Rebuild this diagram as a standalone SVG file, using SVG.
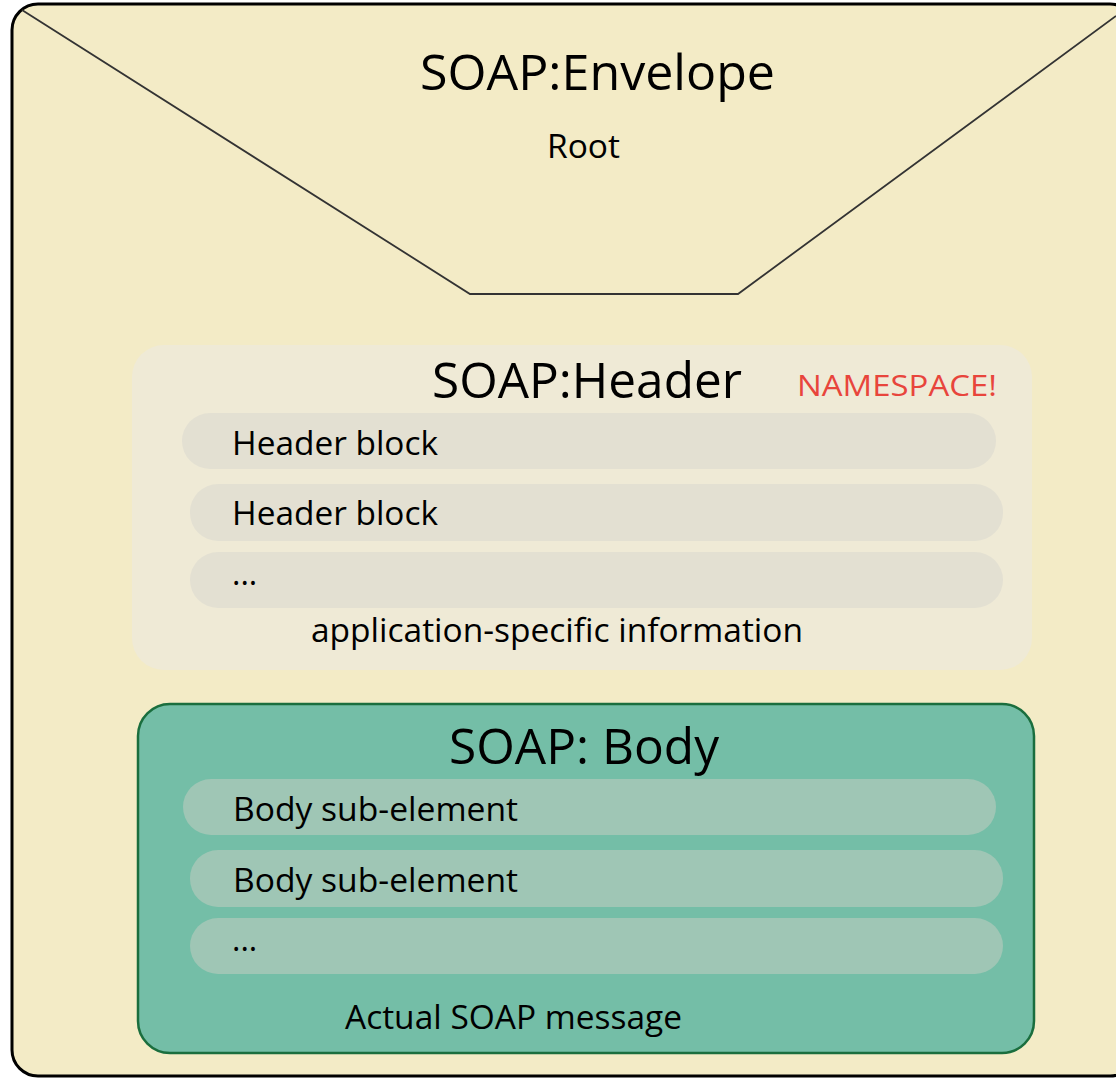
<svg xmlns="http://www.w3.org/2000/svg" width="1116" height="1078" viewBox="0 0 1116 1078">
<style>
text{font-family:"Open Sans","Noto Sans","Liberation Sans",sans-serif;fill:#000}
.big{font-size:50px}
.mid{font-size:32px}
.hrow{fill:#e3e0d2}
.brow{fill:#9fc6b5}
</style>
<rect width="1116" height="1078" fill="#ffffff"/>
<g id="envelope">
<rect x="12" y="4" width="1124" height="1072" rx="26" fill="#f3ebc6" stroke="#000" stroke-width="3"/>
<polyline points="22,10 470,294 738,294 1116,16" fill="none" stroke="#333" stroke-width="1.8"/>
<text class="big" x="420" y="90" textLength="355" lengthAdjust="spacingAndGlyphs">SOAP:Envelope</text>
<text class="mid" x="547" y="158" textLength="73" lengthAdjust="spacingAndGlyphs">Root</text>
</g>
<g id="header">
<rect x="132" y="345" width="900" height="325" rx="32" fill="#efead6"/>
<text class="big" x="432" y="398" textLength="310" lengthAdjust="spacingAndGlyphs">SOAP:Header</text>
<text x="797" y="396" font-size="30" style="fill:#e8453c" textLength="200" lengthAdjust="spacingAndGlyphs">NAMESPACE!</text>
<rect class="hrow" x="182" y="413" width="814" height="56" rx="28"/>
<rect class="hrow" x="190" y="484" width="813" height="57" rx="28"/>
<rect class="hrow" x="190" y="552" width="813" height="56" rx="28"/>
<text class="mid" x="232" y="455" textLength="206" lengthAdjust="spacingAndGlyphs">Header block</text>
<text class="mid" x="232" y="525" textLength="206" lengthAdjust="spacingAndGlyphs">Header block</text>
<text class="mid" x="232" y="585">...</text>
<text class="mid" x="311" y="642" textLength="492" lengthAdjust="spacingAndGlyphs">application-specific information</text>
</g>
<g id="body">
<rect x="138" y="704" width="896" height="349" rx="32" fill="#74bea7" stroke="#1a6e3e" stroke-width="2.5"/>
<text class="big" x="449" y="764" textLength="270" lengthAdjust="spacingAndGlyphs">SOAP: Body</text>
<rect class="brow" x="183" y="779" width="813" height="56" rx="28"/>
<rect class="brow" x="190" y="850" width="813" height="57" rx="28"/>
<rect class="brow" x="190" y="918" width="813" height="56" rx="28"/>
<text class="mid" x="233" y="821" textLength="285" lengthAdjust="spacingAndGlyphs">Body sub-element</text>
<text class="mid" x="233" y="892" textLength="285" lengthAdjust="spacingAndGlyphs">Body sub-element</text>
<text class="mid" x="232" y="951">...</text>
<text class="mid" x="345" y="1029" textLength="337" lengthAdjust="spacingAndGlyphs">Actual SOAP message</text>
</g>
<g id="connectors"></g>
</svg>
